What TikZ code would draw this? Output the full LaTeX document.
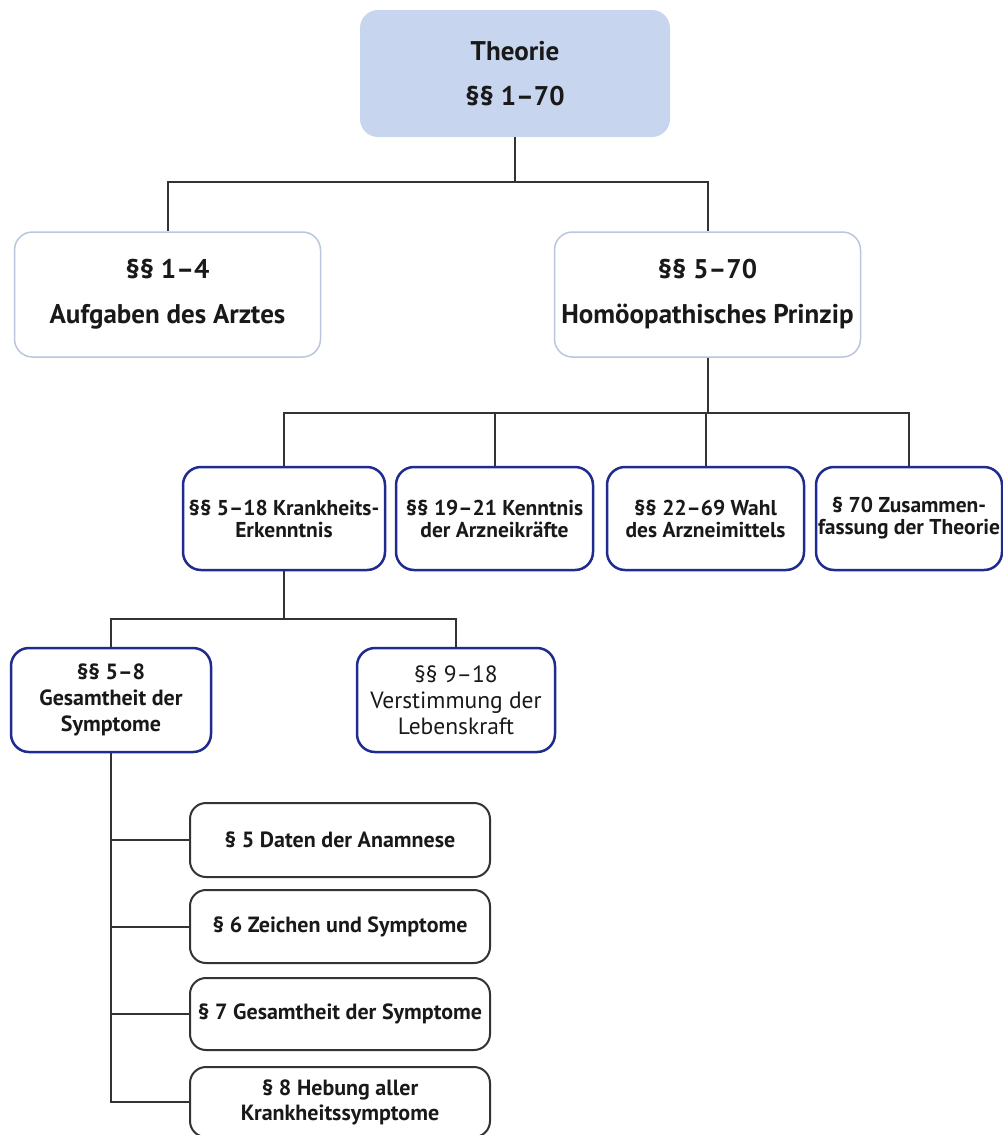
\documentclass[tikz,border=0pt]{standalone}
\usepackage{fontspec}
\setmainfont{PT Sans}
\definecolor{rootfill}{HTML}{C7D5EE}
\definecolor{paleframe}{HTML}{B9C6DE}
\definecolor{navy}{HTML}{1F2B8E}
\definecolor{wire}{HTML}{333333}

\begin{document}
\begin{tikzpicture}[
  x=1pt, y=-1pt,
  box/.style={rounded corners=18pt, align=center, inner xsep=2pt, text=black!90},
  rootbox/.style={box, fill=rootfill, minimum width=310pt, minimum height=127pt, font=\fontsize{27}{45}\selectfont\bfseries},
  headbox/.style={box, draw=paleframe, line width=1.5pt, minimum width=306pt, minimum height=125pt, font=\fontsize{27}{45}\selectfont\bfseries},
  partbox/.style={box, draw=navy, line width=2.5pt, minimum height=103pt, font=\fontsize{21.5}{22}\selectfont\bfseries},
  subbox/.style={box, draw=navy, line width=2.5pt, minimum width=200pt, minimum height=104pt, font=\fontsize{23.5}{26}\selectfont},
  leafbox/.style={box, rounded corners=16pt, draw=wire, line width=2pt, minimum width=300pt, minimum height=73pt, font=\fontsize{22}{26}\selectfont\bfseries},
  line/.style={draw=wire, line width=2pt}
]
\useasboundingbox (0,0) rectangle (1003,1135);

% top level
\node[rootbox] (root) at (515,73.5) {Theorie\\§§ 1–70};

\node[headbox] (aufgaben) at (167.5,294.5) {§§ 1–4\\Aufgaben des Arztes};
\node[headbox] (prinzip) at (707.5,294.5) {§§ 5–70\\Homöopathisches Prinzip};

\coordinate (bar1) at (0,182);
\draw[line] (root.south) -- (root.south |- bar1) -| (aufgaben.north);
\draw[line] (root.south |- bar1) -| (prinzip.north);

% parts of the principle
\node[partbox, minimum width=202pt] (erkenntnis) at (284,518.5) {§§ 5–18 Krankheits-\\Erkenntnis};
\node[partbox, minimum width=197pt] (kraefte) at (494.5,518.5) {§§ 19–21 Kenntnis\\der Arzneikräfte};
\node[partbox, minimum width=197pt] (wahl) at (705.5,518.5) {§§ 22–69 Wahl\\des Arzneimittels};
\node[partbox, minimum width=186pt] (summe) at (909,518.5) {§ 70 Zusammen-\\fassung der Theorie};

\coordinate (bar2) at (0,413);
\foreach \n in {erkenntnis,kraefte,wahl,summe}
  \draw[line] (prinzip.south) -- (prinzip.south |- bar2) -| (\n.north);

% Krankheits-Erkenntnis
\node[subbox, font=\fontsize{22}{26}\selectfont\bfseries] (gesamt) at (111,700) {§§ 5–8\\Gesamtheit der\\Symptome};
\node[subbox, minimum width=198pt] (verstimmung) at (456,700) {§§ 9–18\\Verstimmung der\\Lebenskraft};

\coordinate (bar3) at (0,619);
\draw[line] (erkenntnis.south) -- (erkenntnis.south |- bar3) -| (gesamt.north);
\draw[line] (erkenntnis.south |- bar3) -| (verstimmung.north);

% single paragraphs
\node[leafbox, minimum height=74pt] (anamnese) at (340,840) {§ 5 Daten der Anamnese};
\node[leafbox] (zeichen) at (340,926.5) {§ 6 Zeichen und Symptome};
\node[leafbox, minimum height=72pt] (symptome) at (340,1014) {§ 7 Gesamtheit der Symptome};
\node[leafbox, minimum height=70pt, font=\fontsize{22}{25}\selectfont\bfseries] (hebung) at (340,1102) {§ 8 Hebung aller\\Krankheitssymptome};

\draw[line] (gesamt.south) -- (gesamt.south |- hebung.west) -- (hebung.west);
\foreach \n in {anamnese,zeichen,symptome}
  \draw[line] (gesamt.south |- \n.west) -- (\n.west);
\end{tikzpicture}
\end{document}
